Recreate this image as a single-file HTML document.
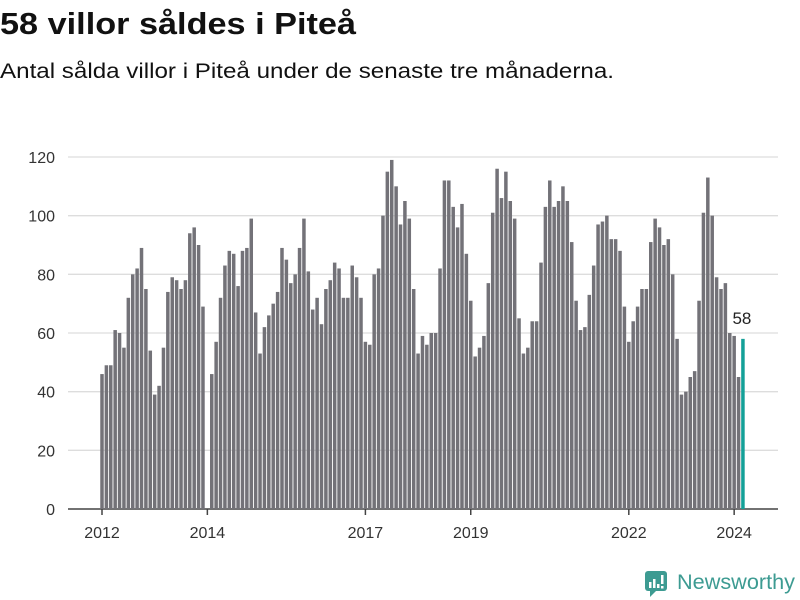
<!DOCTYPE html>
<html><head><meta charset="utf-8"><style>
body{margin:0;background:#fff;}
svg{display:block;font-family:"Liberation Sans",sans-serif;}
</style></head><body>
<svg width="800" height="600" viewBox="0 0 800 600">
<text x="0" y="34" font-size="31" font-weight="bold" fill="#111" textLength="356" lengthAdjust="spacingAndGlyphs">58 villor såldes i Piteå</text>
<text x="0" y="78" font-size="21" fill="#111" textLength="614" lengthAdjust="spacingAndGlyphs">Antal sålda villor i Piteå under de senaste tre månaderna.</text>
<g id="grid"></g>
<g id="bars"></g>
<g id="xaxis"></g>
<g>
<rect x="645" y="571" width="22" height="20" rx="3" fill="#3d9b92"/>
<polygon points="650,591 656,591 650,597" fill="#3d9b92"/>
<rect x="649" y="582" width="2.5" height="6" fill="#fff"/>
<rect x="653" y="579" width="2.5" height="9" fill="#fff"/>
<rect x="657" y="584" width="2.5" height="4" fill="#fff"/>
<rect x="661" y="575" width="2.5" height="9" fill="#fff"/>
<rect x="661" y="586" width="2.5" height="2.5" fill="#fff"/>
<text x="677" y="589" font-size="21" fill="#3d9b92" textLength="118" lengthAdjust="spacingAndGlyphs">Newsworthy</text>
</g>
</svg>
<script>
const values = [46,49,49,61,60,55,72,80,82,89,75,54, 39,42,55,74,79,78,75,78,94,96,90,69,
0,46,57,72,83,88,87,76,88,89,99,67,
53,62,66,70,74,89,85,77,80,89,99,81,
68,72,63,75,78,84,82,72,72,83,79,72,
57,56,80,82,100,115,119,110,97,105,99,75,
53,59,56,60,60,82,112,112,103,96,104,87,
71,52,55,59,77,101,116,106,115,105,99,65,
53,55,64,64,84,103,112,103,105,110,105,91,
71,61,62,73,83,97,98,100,92,92,88,69,
57,64,69,75,75,91,99,96,90,92,80,58,
39,40,45,47,71,101,113,100,79,75,77,60,
59,45,58];
const yTicks = [0,20,40,60,80,100,120];
const xTickYears = [2012,2014,2017,2019,2022,2024];
const NS="http://www.w3.org/2000/svg";
const y = v => 509 - v*(352/120);
const x = i => 102 + i*4.39;
const grid=document.getElementById('grid');
yTicks.forEach(t=>{
  const l=document.createElementNS(NS,'line');
  l.setAttribute('x1',68);l.setAttribute('x2',778);
  l.setAttribute('y1',y(t));l.setAttribute('y2',y(t));
  l.setAttribute('stroke',t===0?'#444':'#ddd');l.setAttribute('stroke-width',t===0?1.5:1.3);
  
  
  grid.appendChild(l);
  const tx=document.createElementNS(NS,'text');
  tx.setAttribute('x',55);tx.setAttribute('y',y(t)+6);
  tx.setAttribute('text-anchor','end');tx.setAttribute('font-size','16');tx.setAttribute('fill','#333');
  tx.textContent=t;
  
  
  grid.appendChild(tx);
});
const bars=document.getElementById('bars');
values.forEach((v,i)=>{
  const r=document.createElementNS(NS,'rect');
  const last=i===values.length-1;
  r.setAttribute('x',x(i)-1.75);r.setAttribute('width',3.5);
  r.setAttribute('y',y(v));r.setAttribute('height',509-y(v));
  r.setAttribute('fill',last?'#14a098':'#737278');
  
  
  bars.appendChild(r);
  if(last){
    const t=document.createElementNS(NS,'text');
    t.setAttribute('x',x(i)-1);t.setAttribute('y',y(v)-15);
    t.setAttribute('text-anchor','middle');t.setAttribute('font-size','17');t.setAttribute('fill','#222');
    t.textContent=v;
    
    
    bars.appendChild(t);
  }
});
const xa=document.getElementById('xaxis');
xTickYears.forEach(yr=>{
  const xi=x((yr-2012)*12);
  const l=document.createElementNS(NS,'line');
  l.setAttribute('x1',xi);l.setAttribute('x2',xi);l.setAttribute('y1',509);l.setAttribute('y2',515);
  l.setAttribute('stroke','#444');l.setAttribute('stroke-width',1.5);
  
  
  xa.appendChild(l);
  const t=document.createElementNS(NS,'text');
  t.setAttribute('x',xi);t.setAttribute('y',538);t.setAttribute('text-anchor','middle');
  t.setAttribute('font-size','16');t.setAttribute('fill','#333');
  t.textContent=yr;
  
  
  xa.appendChild(t);
});
</script>
</body></html>
